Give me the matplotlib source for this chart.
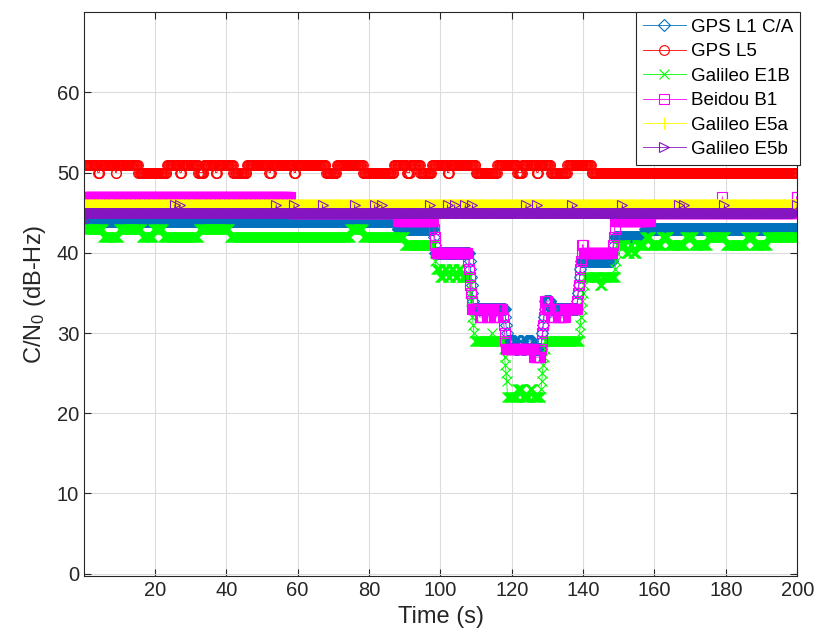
import numpy as np
import matplotlib
matplotlib.use("Agg")
import matplotlib.pyplot as plt

plt.rcParams['font.family'] = ['Liberation Sans', 'DejaVu Sans']
plt.rcParams['mathtext.fontset'] = 'custom'
plt.rcParams['mathtext.rm'] = 'Liberation Sans'
plt.rcParams['mathtext.it'] = 'Liberation Sans:italic'

# sample times (s), 5 Hz
dt = 0.2
t = np.round(np.arange(1, 1001) * dt, 1)

# C/N0 levels (dB-Hz): (start time, level) held until next step,
# a list means one level per sample
l1_steps = [(0, 44), (88, 43), (98.2, [42, 41]), (98.6, 40),
            (108.2, [39, 38, 37, 36, 35, 34]), (109.4, 33),
            (118.2, [32, 31, 30]), (118.8, 29), (121, 28), (122, 29), (123, 28),
            (124, 29), (126, 28), (128.4, [29, 30, 31, 32, 33]), (129.4, 34),
            (131, 33), (138.4, [34, 35, 36, 37, 38]), (139.4, 39),
            (148.4, [40, 41]), (148.8, 42), (157.4, 43)]

l5_steps = [(0, 51), (4, 50), (4.6, 51), (9, 50), (9.4, 51), (15.4, 50),
            (23.4, 51), (27, 50), (27.6, 51), (32.2, 50), (33.8, 51), (37, 50),
            (37.6, 51), (42, 50), (45.8, 51), (52, 50), (52.6, 51), (59, 50),
            (59.6, 51), (68, 50), (71, 51), (78.4, 50), (87, 51), (90.6, 50),
            (91.6, 51), (94.4, 50), (97.6, 51), (102, 50), (102.6, 51), (110, 50),
            (116, 51), (121.6, 50), (123, 51), (127, 50), (127.6, 51), (131, 50),
            (135.6, 51), (142.4, 50)]

e1b_steps = [(0, 43), (5.6, 42), (10, 43), (16.4, 42), (19.6, 43), (22.4, 42),
             (32.4, 43), (41, 42), (74.8, 43), (78.4, 42), (90, 41),
             (98.4, [40, 39]), (98.8, 38), (100, 37), (101, 38), (102, 37),
             (103, 38), (104, 37), (105, 38), (106, 37),
             (108.2, [36, 35, 34, 33, 32, 31, 30]), (109.6, 29), (114.4, 30),
             (114.6, 29), (117.8, [28, 27, 26, 25, 24]), (118.8, 22), (121.6, 23),
             (123, 22), (125, 23), (126, 22), (128.2, [23, 24, 25, 26, 27, 28]),
             (129.4, 29), (139, [30, 31, 32, 33, 34, 35, 36]), (140.4, 37),
             (144.6, 36), (145.4, 37), (149, [38, 39, 40]), (149.6, 41), (152, 40),
             (153, 41), (154, 40), (155, 41), (157.4, 42), (159, 41), (162, 42),
             (164, 41), (168.6, 42), (171, 41), (174.8, 42), (180, 41),
             (185.6, 42), (188, 41), (191.6, 42)]

b1_steps = [(0, 47), (58, 45), (88, 44), (98.2, [43, 42, 41]), (98.8, 40),
            (107.8, [39, 38, 37, 36, 35, 34]), (109, 33), (111, 32), (112, 33),
            (113, 32), (114, 33), (115, 32), (116, 33), (117.6, [32, 31, 30, 29]),
            (118.4, 28), (126.2, 27), (128.2, [28, 29, 30, 31, 32, 33]),
            (129.4, 34), (130, 33), (131, 32), (132, 33), (133, 32), (135, 33),
            (138.4, [34, 35, 36, 37, 38, 39, 40]), (139.8, 41), (140.2, 40),
            (148.4, [41, 42, 43]), (149, 44), (159, 45), (179, 47), (179.2, 45),
            (199.8, 47)]

e5a_steps = [(0, 46)]

e5b_steps = [(0, 44), (0.4, 45)]
e5b_spikes = [25.6, 27, 54, 59, 67, 76, 81.6, 83.6, 97, 102, 104, 107, 109,
              124, 127, 137, 151, 167, 168.4, 179.6, 200]

names = ['GPS L1 C/A', 'GPS L5', 'Galileo E1B', 'Beidou B1',
         'Galileo E5a', 'Galileo E5b']


def expand(steps, spikes=(), spike_val=46):
    times, vals = [], []
    for start, v in steps:
        if isinstance(v, list):
            for k, vi in enumerate(v):
                times.append(round(start + k * dt, 1))
                vals.append(vi)
        else:
            times.append(start)
            vals.append(v)
    idx = np.searchsorted(times, t, side='right') - 1
    y = np.array(vals, dtype=float)[idx]
    for ts in spikes:
        y[np.isclose(t, ts)] = spike_val
    return y


series = [expand(l1_steps), expand(l5_steps), expand(e1b_steps),
          expand(b1_steps), expand(e5a_steps), expand(e5b_steps, e5b_spikes)]
colors = ['#0072BD', '#FF0000', '#00FF00', '#FF00FF', '#FFFF00', '#8515C0']
markers = ['D', 'o', 'x', 's', '+', '>']
msizes = [6, 7, 7, 7, 8, 7]

fig = plt.figure(figsize=(8.16, 6.38), dpi=100)
ax = fig.add_axes([0.103, 0.097, 0.874, 0.884])

for y, c, m, ms, name in zip(series, colors, markers, msizes, names):
    ax.plot(t, y, '-', color=c, marker=m, markersize=ms, markerfacecolor='none',
            markeredgewidth=0.8, linewidth=0.6, label=name)

ax.set_xlim(0.15, 200)
ax.set_ylim(-0.3, 70)
ax.set_xticks(np.arange(20, 201, 20))
ax.set_yticks(np.arange(0, 61, 10))
ax.grid(True, color='#dcdcdc', linewidth=0.8)
ax.set_axisbelow(True)
ax.tick_params(direction='in', top=True, right=True, length=5,
               labelsize=14.5, colors='#262626')
for s in ax.spines.values():
    s.set_color('#262626')
    s.set_linewidth(0.8)

ax.set_xlabel('Time (s)', fontsize=17, color='#262626')
ax.set_ylabel('C/N$_0$ (dB-Hz)', fontsize=17, color='#262626', labelpad=6)

leg = ax.legend(loc='upper right', bbox_to_anchor=(1.004, 1.0), borderaxespad=0,
                fontsize=13.5, fancybox=False, framealpha=1, edgecolor='#262626',
                handlelength=2.3, handletextpad=0.3, labelspacing=0.39,
                borderpad=0.35)
leg.get_frame().set_linewidth(0.8)

fig.savefig('out.png', dpi=100)
